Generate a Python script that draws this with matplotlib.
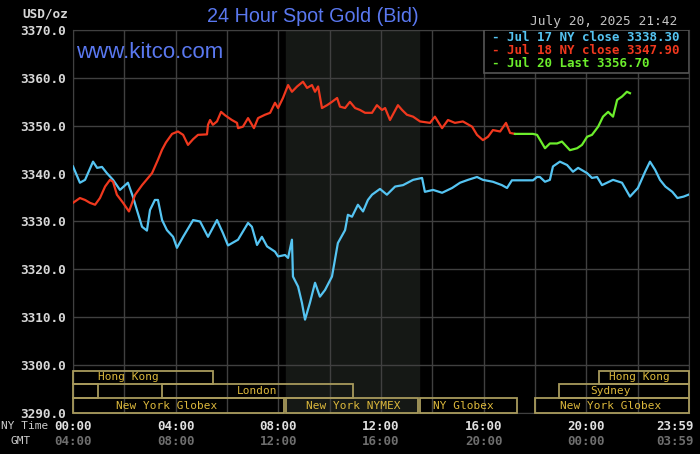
import matplotlib
matplotlib.use('Agg')
import matplotlib.pyplot as plt
from matplotlib.patches import Rectangle
from matplotlib.transforms import blended_transform_factory

# Jul 17 (blue), hours NY time and price
blue_h = [0, 0.27, 0.47, 0.78, 0.94, 1.13, 1.32, 1.56, 1.83, 2.14, 2.34, 2.49, 2.69, 2.88, 3.0,
          3.19, 3.31, 3.47, 3.66, 3.9, 4.05, 4.29, 4.68, 4.95, 5.26, 5.61, 5.84, 6.04, 6.43, 6.82,
          6.97, 7.17, 7.36, 7.56, 7.87, 7.99, 8.26, 8.38, 8.53, 8.57, 8.77, 8.92, 9.04, 9.23, 9.43,
          9.62, 9.82, 10.09, 10.32, 10.6, 10.71, 10.87, 11.1, 11.3, 11.49, 11.65, 11.96, 12.23,
          12.55, 12.86, 13.25, 13.6, 13.71, 14.03, 14.38, 14.77, 15.08, 15.39, 15.74, 15.97, 16.36,
          16.71, 16.91, 17.1, 17.92, 18.08, 18.19, 18.39, 18.58, 18.7, 18.97, 19.25, 19.48, 19.68,
          20.03, 20.22, 20.42, 20.61, 21.04, 21.39, 21.7, 22.01, 22.29, 22.48, 22.68, 22.87, 23.08,
          23.35, 23.55, 23.79, 23.98]
blue_v = [3341.5, 3338.1, 3338.7, 3342.5, 3341.2, 3341.4, 3340.1, 3338.7, 3336.6, 3338.1, 3335.1,
          3332.4, 3328.9, 3328.1, 3332.4, 3334.5, 3334.5, 3330.3, 3328.2, 3326.8, 3324.5, 3326.8,
          3330.3, 3330.0, 3326.8, 3330.3, 3327.6, 3325.0, 3326.2, 3329.7, 3328.9, 3325.1, 3326.8,
          3324.8, 3323.7, 3322.7, 3323.0, 3322.4, 3326.2, 3318.5, 3316.4, 3313.0, 3309.5, 3313.0,
          3317.2, 3314.3, 3315.7, 3318.5, 3325.5, 3328.2, 3331.4, 3331.0, 3333.5, 3332.1, 3334.5,
          3335.6, 3336.8, 3335.6, 3337.3, 3337.6, 3338.7, 3339.1, 3336.2, 3336.6, 3336.0, 3337.0,
          3338.1, 3338.7, 3339.3, 3338.7, 3338.3, 3337.6, 3337.0, 3338.6, 3338.6, 3339.3, 3339.3,
          3338.3, 3338.7, 3341.5, 3342.5, 3341.8, 3340.4, 3341.2, 3340.1, 3339.1, 3339.3, 3337.6,
          3338.7, 3338.1, 3335.2, 3337.0, 3340.4, 3342.5, 3340.8, 3338.7, 3337.3, 3336.2, 3334.9,
          3335.2, 3335.6]

# Jul 18 (red)
red_h = [0, 0.27, 0.47, 0.66, 0.86, 1.05, 1.25, 1.44, 1.56, 1.71, 1.95, 2.18, 2.42, 2.69, 3.08,
         3.31, 3.47, 3.62, 3.86, 4.09, 4.29, 4.48, 4.68, 4.87, 5.22, 5.26, 5.34, 5.45, 5.61, 5.77,
         5.92, 6.19, 6.39, 6.43, 6.62, 6.82, 7.05, 7.21, 7.48, 7.68, 7.87, 7.99, 8.18, 8.38, 8.53,
         8.73, 8.96, 9.12, 9.31, 9.43, 9.55, 9.7, 9.9, 10.09, 10.29, 10.4, 10.6, 10.79, 10.99,
         11.18, 11.38, 11.65, 11.84, 12.04, 12.16, 12.35, 12.66, 12.82, 13.01, 13.25, 13.52, 13.91,
         14.1, 14.38, 14.61, 14.88, 15.19, 15.55, 15.74, 15.97, 16.17, 16.36, 16.64, 16.87, 17.03,
         17.22]
red_v = [3333.9, 3334.9, 3334.5, 3333.9, 3333.5, 3334.9, 3337.3, 3338.7, 3338.3, 3335.6, 3333.9,
         3332.1, 3335.6, 3337.6, 3340.1, 3342.9, 3345.0, 3346.5, 3348.3, 3348.8, 3348.1, 3346.0,
         3347.2, 3348.1, 3348.2, 3350.2, 3351.2, 3350.2, 3350.9, 3352.9, 3352.2, 3351.2, 3350.6,
         3349.5, 3349.8, 3351.6, 3349.5, 3351.6, 3352.3, 3352.7, 3354.8, 3353.7, 3355.8, 3358.5,
         3357.1, 3358.2, 3359.2, 3357.9, 3358.5, 3357.1, 3358.2, 3353.7, 3354.3, 3355.0, 3355.8,
         3354.0, 3353.7, 3355.0, 3353.7, 3353.3, 3352.7, 3352.7, 3354.3, 3353.3, 3353.7, 3351.2,
         3354.3, 3353.3, 3352.3, 3351.9, 3350.9, 3350.6, 3351.9, 3349.5, 3351.2, 3350.6, 3350.9,
         3349.8, 3348.1, 3347.0, 3347.7, 3349.1, 3348.8, 3350.6, 3348.5, 3348.3]

# Jul 20 (green)
green_h = [17.22, 17.92, 18.08, 18.39, 18.58, 18.86, 19.05, 19.17, 19.36, 19.64, 19.83, 20.03,
           20.22, 20.46, 20.65, 20.85, 21.04, 21.2, 21.39, 21.58, 21.7]
green_v = [3348.3, 3348.3, 3348.1, 3345.3, 3346.3, 3346.3, 3346.7, 3346.0, 3344.9, 3345.3, 3346.0,
           3347.7, 3348.1, 3349.8, 3351.9, 3352.9, 3351.9, 3355.4, 3356.1, 3357.1, 3356.8]

legend_labels = ['Jul 17 NY close 3338.30', 'Jul 18 NY close 3347.90', 'Jul 20 Last 3356.70']

y_ticks = [3290, 3300, 3310, 3320, 3330, 3340, 3350, 3360, 3370]
ny_ticks = [0, 4, 8, 12, 16, 20, 24]
ny_labels = ['00:00', '04:00', '08:00', '12:00', '16:00', '20:00', '23:59']
gmt_labels = ['04:00', '08:00', '12:00', '16:00', '20:00', '00:00', '03:59']

# trading sessions: name, start, end, row (0 = top), label position
sessions = [
    ('Hong Kong', 0, 5.45, 0, 2.14),
    ('Hong Kong', 20.5, 24, 0, 22.05),
    ('', 0, 0.97, 1, 0),
    ('London', 3.48, 10.9, 1, 7.17),
    ('Sydney', 18.93, 24, 1, 20.96),
    ('New York Globex', 0, 8.22, 2, 3.66),
    ('New York NYMEX', 8.3, 13.45, 2, 10.9),
    ('NY Globex', 13.52, 17.3, 2, 15.19),
    ('New York Globex', 18.0, 24, 2, 20.96),
]
nymex_open, nymex_close = 8.3, 13.5

BLUE = '#55c4f2'
RED = '#f0381e'
GREEN = '#6cee2c'
TITLE_BLUE = '#5a78f0'
GRID = '#404040'
GOLD = '#dcb83c'
MONO = 'DejaVu Sans Mono'

fig = plt.figure(figsize=(7, 4.54), dpi=100, facecolor='black')
ax = fig.add_axes([73 / 700, 1 - 413 / 454, 616 / 700, 383 / 454])
ax.set_facecolor('black')
ax.set_xlim(0, 24)
ax.set_ylim(3290, 3370)

ax.axvspan(nymex_open, nymex_close, color='#151815', zorder=0)

ax.set_xticks(range(0, 25, 2))
ax.set_xticklabels([])
ax.set_yticks(y_ticks)
ax.set_yticklabels([f'{v:.1f}' for v in y_ticks], fontfamily=MONO, fontweight='bold')
ax.tick_params(length=0, colors='#d8d8d8', labelsize=9.2, pad=5)
ax.grid(True, color=GRID, lw=1)
ax.set_axisbelow(True)
for s in ax.spines.values():
    s.set_color(GRID)

ax.plot(blue_h, blue_v, color=BLUE, lw=1.6, zorder=3)
ax.plot(red_h, red_v, color=RED, lw=1.6, zorder=3)
ax.plot(green_h, green_v, color=GREEN, lw=1.6, zorder=3)

# session boxes at the bottom
row_edges = [(3296.1, 3298.8), (3293.1, 3296.1), (3290.0, 3293.1)]
for name, start, end, row, lx in sessions:
    y0, y1 = row_edges[row]
    ax.add_patch(Rectangle((start, y0), end - start, y1 - y0, fill=False,
                           edgecolor='#a89a5c', lw=1.3, zorder=4, clip_on=False))
    if name:
        ax.text(lx, (y0 + y1) / 2, name, color=GOLD, fontsize=8, fontfamily=MONO,
                ha='center', va='center', zorder=5)

# legend box top right
ax.add_patch(Rectangle((16.01, 3361.0), 7.99, 9.0, facecolor='black',
                       edgecolor='#555555', lw=1.2, zorder=6))
for i, (lab, c) in enumerate(zip(legend_labels, [BLUE, RED, GREEN])):
    ax.text(16.32, 3368.5 - i * 2.8, '- ' + lab, color=c, fontsize=9, fontfamily=MONO,
            fontweight='bold', ha='left', va='center', zorder=7)

# time labels below the axis
trans = blended_transform_factory(ax.transData, ax.transAxes)
for t, ny, gmt in zip(ny_ticks, ny_labels, gmt_labels):
    dx = -10 if t == 24 else 0
    ax.annotate(ny, xy=(t, 0), xycoords=trans, xytext=(dx, -9.5), textcoords='offset points',
                ha='center', va='center', color='#e0e0e0', fontsize=9, fontfamily=MONO,
                fontweight='bold', annotation_clip=False)
    ax.annotate(gmt, xy=(t, 0), xycoords=trans, xytext=(dx, -20.5), textcoords='offset points',
                ha='center', va='center', color='#6e6e6e', fontsize=9, fontfamily=MONO,
                fontweight='bold', annotation_clip=False)

fig.text(48 / 700, 1 - 426 / 454, 'NY Time', color='#cccccc', fontsize=8, fontfamily=MONO,
         ha='right', va='center')
fig.text(21 / 700, 1 - 441 / 454, 'GMT', color='#cccccc', fontsize=8, fontfamily=MONO,
         ha='center', va='center')
fig.text(68 / 700, 1 - 14 / 454, 'USD/oz', color='#d8d8d8', fontsize=9.2, fontfamily=MONO,
         fontweight='bold', ha='right', va='center')

fig.text(313 / 700, 1 - 17 / 454, '24 Hour Spot Gold (Bid)', color=TITLE_BLUE, fontsize=14.2,
         fontfamily='Liberation Sans', ha='center', va='center')
fig.text(677 / 700, 1 - 22 / 454, 'July 20, 2025 21:42', color='#c4c4c4', fontsize=9.3,
         fontfamily=MONO, ha='right', va='center')
ax.text(76 / 700, 1 - 53 / 454, 'www.kitco.com', color=TITLE_BLUE, fontsize=16,
        fontfamily='Liberation Sans', ha='left', va='center', transform=fig.transFigure, zorder=8)

fig.savefig('out.png', dpi=100, facecolor='black')
